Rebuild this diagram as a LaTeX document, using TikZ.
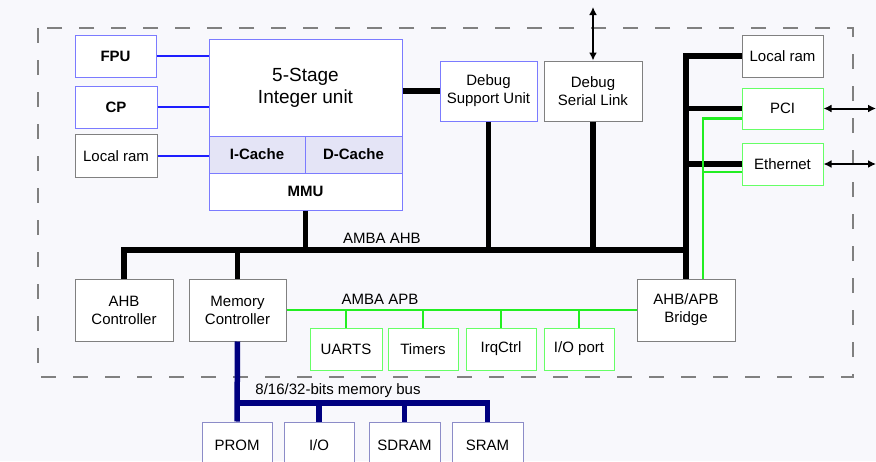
\documentclass[tikz,border=0pt]{standalone}
\usepackage{fontspec}
\setmainfont{Liberation Sans}
\usetikzlibrary{arrows.meta}

\definecolor{bgcol}{HTML}{F8F8FC}
\definecolor{bluebox}{HTML}{7B7BFF}
\definecolor{blueline}{HTML}{1E1EFF}
\definecolor{greenline}{HTML}{22EE22}
\definecolor{greenbox}{HTML}{66FF66}
\definecolor{navybus}{HTML}{000080}
\definecolor{membox}{HTML}{8C8CC8}
\definecolor{cachefill}{HTML}{E4E4F6}

\begin{document}
\begin{tikzpicture}[x=1pt,y=-1pt,
  box/.style={draw=gray,fill=white,line width=1pt,inner sep=0pt,align=center,
    font=\fontsize{15}{18}\selectfont},
  bluebox/.style={box,draw=bluebox},
  greenbox/.style={box,draw=greenbox},
  membox/.style={box,draw=membox},
  boldbox/.style={font=\fontsize{15}{18}\selectfont\bfseries},
  ahbbus/.style={line width=5.5pt,black},
  membus/.style={line width=5.5pt,navybus},
  apbline/.style={line width=2.2pt,greenline},
  cpuline/.style={line width=2.2pt,blueline},
  extlink/.style={{Latex[length=8pt,width=8pt]}-{Latex[length=8pt,width=8pt]},line width=2pt},
  buslabel/.style={font=\fontsize{15}{18}\selectfont,inner sep=0pt}]

% Fond
\path[use as bounding box,fill=bgcol]
(0,0)
rectangle
(876,461);

% Limite de la puce
\draw[gray,line width=1.5pt,dash pattern=on 15pt off 17pt]
(38,28)
rectangle
(853,377);

% Coeur
\node[bluebox,minimum width=193pt,minimum height=97pt,
  font=\fontsize{19}{22}\selectfont]
(iu) at (305.5,87.5)
{5-Stage\\Integer unit};

\node[bluebox,boldbox,fill=cachefill,minimum width=96pt,minimum height=37pt]
(icache) at (257,154.5)
{I-Cache};

\node[bluebox,boldbox,fill=cachefill,minimum width=97pt,minimum height=37pt]
(dcache) at (353.5,154.5)
{D-Cache};

\node[bluebox,boldbox,minimum width=193pt,minimum height=37pt]
(mmu) at (305.5,191.5)
{MMU};

% Blocs du coeur
\node[bluebox,boldbox,minimum width=81pt,minimum height=42pt]
(fpu) at (115.5,56)
{FPU};

\node[bluebox,boldbox,minimum width=82pt,minimum height=42pt]
(cp) at (116,107)
{CP};

\node[box,minimum width=82pt,minimum height=43pt]
(lramcpu) at (116,156)
{Local ram};

\draw[cpuline]
(fpu.east)
--
(fpu.east -| iu.west);

\draw[cpuline]
(cp.east)
--
(cp.east -| iu.west);

\draw[cpuline]
(lramcpu.east)
--
(lramcpu.east -| icache.west);

% Debug
\node[bluebox,minimum width=97pt,minimum height=60pt]
(dsu) at (488.5,91)
{Debug\\Support Unit};

\node[box,minimum width=98pt,minimum height=60pt]
(dsl) at (593,91)
{Debug\\Serial Link};

\coordinate (dslext) at (593,7);

\draw[extlink]
(dslext)
--
(dsl.north);

% Peripheriques AHB
\node[box,minimum width=81pt,minimum height=42pt]
(lramahb) at (782.5,56)
{Local ram};

\node[greenbox,minimum width=81pt,minimum height=41pt]
(pci) at (782.5,108.5)
{PCI};

\node[greenbox,minimum width=81pt,minimum height=42pt]
(eth) at (782.5,164)
{Ethernet};

\coordinate (pciext) at (876,108.5);
\coordinate (ethext) at (876,164);

\draw[extlink]
(pci.east)
--
(pciext);

\draw[extlink]
(eth.east)
--
(ethext);

% Controleurs
\node[box,minimum width=98pt,minimum height=62pt]
(ahbctrl) at (124,310)
{AHB\\Controller};

\node[box,minimum width=97pt,minimum height=62pt]
(memctrl) at (237.5,310)
{Memory\\Controller};

\node[box,minimum width=98pt,minimum height=62pt]
(bridge) at (686,310)
{AHB/APB\\Bridge};

% Bus AHB
\coordinate (ahbend) at (686,250);

\draw[ahbbus]
(ahbctrl.north)
|-
(ahbend)
--
(bridge.north);

\draw[ahbbus]
(lramahb.west)
-|
(ahbend);

\draw[ahbbus]
(pci.west)
--
(pci.west -| ahbend);

\draw[ahbbus]
(eth.west)
--
(eth.west -| ahbend);

\draw[ahbbus]
(dsu.west -| iu.east)
--
(dsu.west);

\draw[ahbbus]
(mmu.south)
--
(mmu.south |- ahbend);

\draw[ahbbus]
(dsu.south)
--
(dsu.south |- ahbend);

\draw[ahbbus]
(dsl.south)
--
(dsl.south |- ahbend);

\draw[ahbbus]
(memctrl.north)
--
(memctrl.north |- ahbend);

\node[buslabel]
(ahblabel) at (382,238)
{AMBA AHB};

% Bus APB
\node[greenbox,minimum width=72pt,minimum height=42pt]
(uarts) at (346,349)
{UARTS};

\node[greenbox,minimum width=70pt,minimum height=42pt]
(timers) at (423,349)
{Timers};

\node[greenbox,minimum width=70pt,minimum height=42pt]
(irqctrl) at (501,349)
{IrqCtrl};

\node[greenbox,minimum width=70pt,minimum height=42pt]
(ioport) at (579,349)
{I/O port};

\draw[apbline]
(memctrl.east)
--
(bridge.west);

\foreach \per in {uarts,timers,irqctrl,ioport}
  \draw[apbline]
  (\per.north)
  --
  (\per.north |- bridge.west);

\draw[apbline]
([yshift=-10pt]pci.west)
-|
([xshift=17pt]bridge.north);

\draw[apbline]
([yshift=-8pt]eth.west)
-|
([xshift=17pt]bridge.north);

\node[buslabel]
(apblabel) at (380,299)
{AMBA APB};

% Memoire externe
\node[membox,minimum width=70pt,minimum height=46pt]
(prom) at (237,445)
{PROM};

\node[membox,minimum width=70pt,minimum height=46pt]
(io) at (319,445)
{I/O};

\node[membox,minimum width=71pt,minimum height=46pt]
(sdram) at (404.5,445)
{SDRAM};

\node[membox,minimum width=71pt,minimum height=46pt]
(sram) at (487.5,445)
{SRAM};

\coordinate (memend) at (487.5,403);

\draw[membus]
(memctrl.south)
|-
(memend)
--
(sram.north);

\draw[membus]
(memctrl.south)
--
(prom.north);

\draw[membus]
(io.north)
--
(io.north |- memend);

\draw[membus]
(sdram.north)
--
(sdram.north |- memend);

\node[buslabel]
(memlabel) at (338,391)
{8/16/32-bits memory bus};

\end{tikzpicture}
\end{document}
